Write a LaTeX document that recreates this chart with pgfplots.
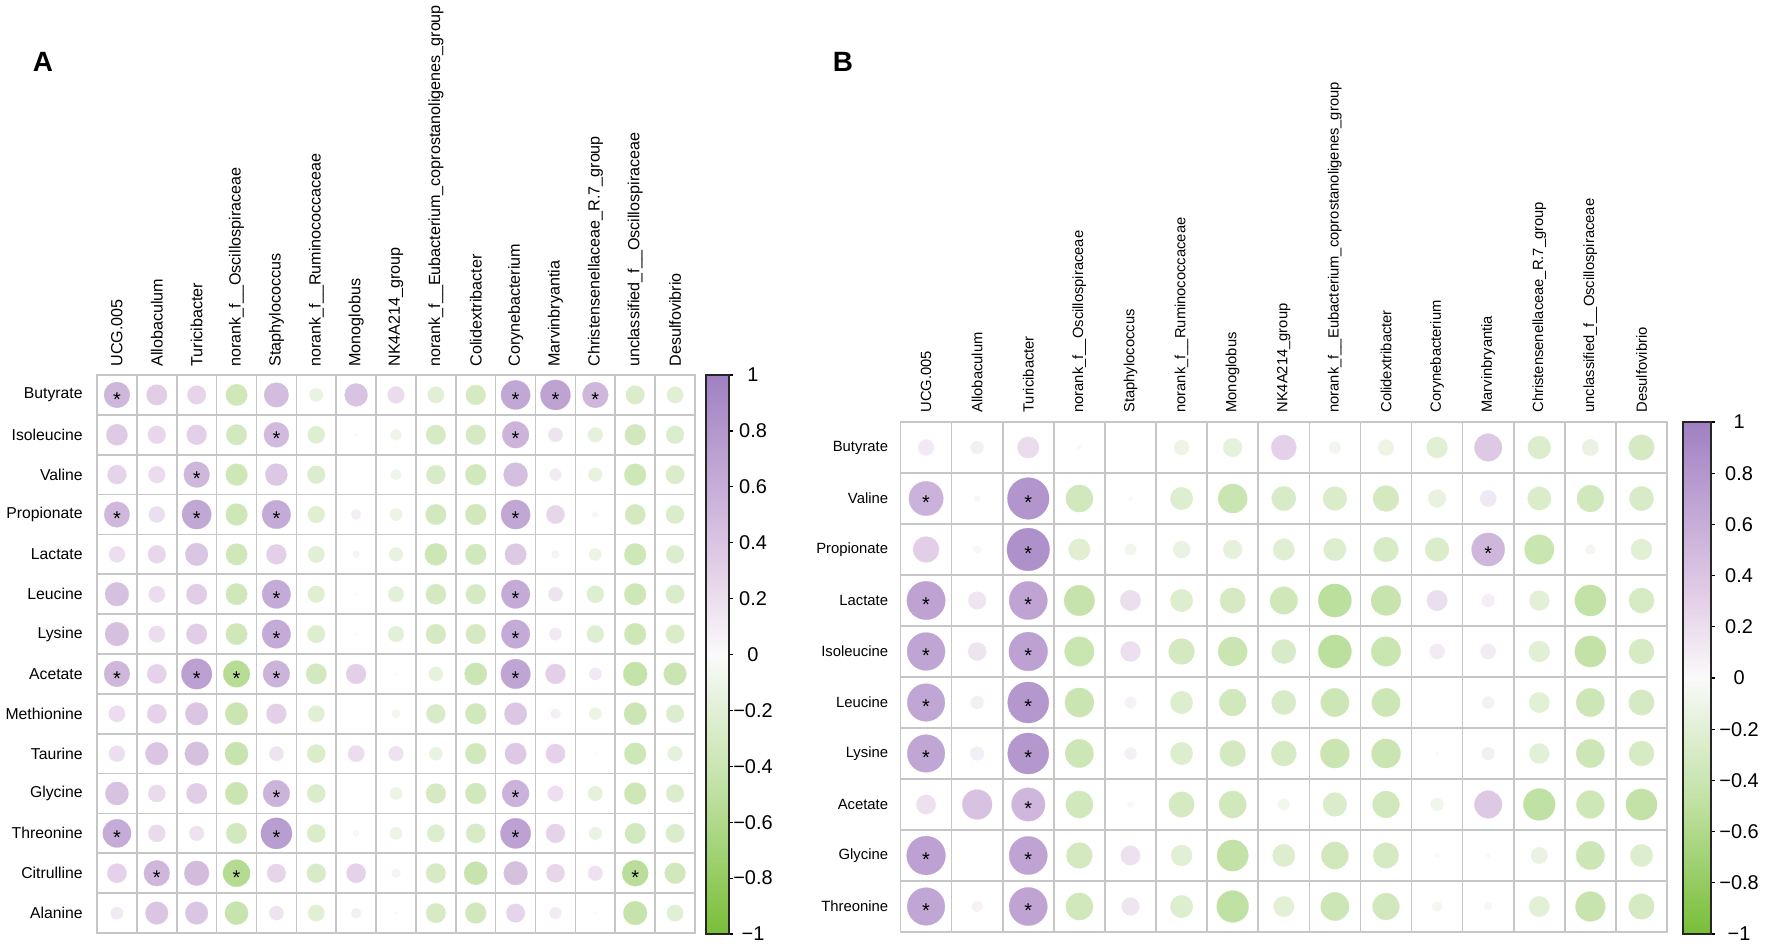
\documentclass[border=0pt]{standalone}
\usepackage{fontspec}
\setmainfont{Liberation Sans}
\usepackage{pgfplots}
\usepackage{pgfplotstable}
\pgfplotsset{compat=1.18}
\definecolor{gridc}{RGB}{198,198,198}
\pgfplotsset{colormap={pg}{rgb255(0cm)=(120,190,55) rgb255(5cm)=(190,224,160) rgb255(10cm)=(250,250,250) rgb255(13cm)=(228,208,232) rgb255(20cm)=(160,128,194)}}
\newcommand\fs[1]{\fontsize{#1}{#1}\selectfont}

% Panel A: rows = metabolites (0 = top), columns c0..c14 = genera
\pgfplotstableread{
row c0 c1 c2 c3 c4 c5 c6 c7 c8 c9 c10 c11 c12 c13 c14
0 0.52 0.33 0.27 -0.36 0.47 -0.14 0.41 0.22 -0.21 -0.31 0.66 0.70 0.52 -0.27 -0.21
1 0.35 0.25 0.31 -0.33 0.49 -0.23 0.01 -0.10 -0.30 -0.31 0.55 0.16 -0.17 -0.34 -0.25
2 0.28 0.22 0.52 -0.37 0.38 -0.25 0.00 -0.09 -0.28 -0.34 0.45 0.11 -0.15 -0.37 -0.27
3 0.51 0.20 0.66 -0.37 0.63 -0.22 0.08 -0.12 -0.33 -0.34 0.66 0.26 0.03 -0.32 -0.26
4 0.20 0.25 0.40 -0.36 0.31 -0.21 0.04 -0.15 -0.38 -0.34 0.36 0.05 -0.12 -0.37 -0.25
5 0.44 0.21 0.33 -0.36 0.63 -0.22 0.01 -0.19 -0.32 -0.31 0.63 0.16 -0.23 -0.37 -0.27
6 0.44 0.21 0.33 -0.36 0.63 -0.24 0.01 -0.19 -0.31 -0.31 0.63 0.12 -0.23 -0.37 -0.27
7 0.52 0.29 0.72 -0.55 0.55 -0.33 0.31 0.01 -0.16 -0.39 0.68 0.31 0.12 -0.45 -0.40
8 0.21 0.29 0.40 -0.40 0.31 -0.21 0.00 -0.06 -0.28 -0.34 0.39 0.08 -0.12 -0.39 -0.25
9 0.20 0.40 0.44 -0.42 0.16 -0.26 0.21 0.17 -0.14 -0.34 0.36 0.29 0.01 -0.37 -0.17
10 0.42 0.23 0.33 -0.40 0.55 -0.26 0.00 -0.12 -0.31 -0.34 0.56 0.19 -0.17 -0.37 -0.25
11 0.62 0.23 0.17 -0.33 0.75 -0.26 0.03 -0.12 -0.24 -0.29 0.71 0.28 -0.13 -0.33 -0.27
12 0.29 0.52 0.48 -0.57 0.27 -0.28 0.29 0.06 -0.30 -0.42 0.44 0.26 0.17 -0.53 -0.34
13 0.12 0.40 0.40 -0.42 0.16 -0.21 0.08 0.01 -0.30 -0.34 0.27 0.11 0.01 -0.44 -0.21
}\tabA

\pgfplotstableread{
c r
0 0
10 0
11 0
12 0
4 1
10 1
2 2
0 3
2 3
4 3
10 3
4 5
10 5
4 6
10 6
0 7
2 7
3 7
4 7
10 7
4 10
10 10
0 11
4 11
10 11
1 12
3 12
13 12
}\starA

% Panel B
\pgfplotstableread{
row c0 c1 c2 c3 c4 c5 c6 c7 c8 c9 c10 c11 c12 c13 c14
0 0.12 0.08 0.22 0.01 0.00 -0.11 -0.17 0.30 -0.065 -0.12 -0.21 0.36 -0.25 -0.13 -0.31
1 0.56 0.02 0.82 -0.35 0.01 -0.24 -0.40 -0.28 -0.27 -0.32 -0.15 0.13 -0.26 -0.34 -0.28
2 0.32 0.03 0.86 -0.22 -0.065 -0.14 -0.17 -0.22 -0.24 -0.29 -0.27 0.52 -0.41 -0.05 -0.21
3 0.70 0.15 0.69 -0.44 0.20 -0.24 -0.31 -0.36 -0.52 -0.42 0.20 0.08 -0.19 -0.46 -0.30
4 0.68 0.16 0.71 -0.41 0.19 -0.32 -0.40 -0.28 -0.52 -0.41 0.11 0.11 -0.21 -0.46 -0.30
5 0.67 0.08 0.80 -0.40 0.065 -0.24 -0.34 -0.28 -0.38 -0.38 0.00 0.07 -0.20 -0.38 -0.31
6 0.67 0.09 0.80 -0.38 0.07 -0.24 -0.32 -0.30 -0.40 -0.40 0.005 0.08 -0.19 -0.38 -0.30
7 0.18 0.42 0.53 -0.35 0.02 -0.31 -0.35 -0.065 -0.27 -0.34 -0.08 0.36 -0.48 -0.37 -0.46
8 0.71 0.00 0.69 -0.32 0.18 -0.21 -0.46 -0.24 -0.35 -0.31 -0.01 0.01 -0.13 -0.38 -0.24
9 0.67 0.06 0.69 -0.35 0.15 -0.24 -0.48 -0.20 -0.38 -0.34 -0.05 0.03 -0.20 -0.42 -0.31
}\tabB

\pgfplotstableread{
c r
0 1
2 1
2 2
11 2
0 3
2 3
0 4
2 4
0 5
2 5
0 6
2 6
2 7
0 8
2 8
0 9
2 9
}\starB

\pgfplotsset{
  corrbase/.style={
    scale only axis, anchor=north west,
    xmin=-0.5, xmax=14.5,
    xtick={0,...,14},
    xticklabels={UCG.005,Allobaculum,Turicibacter,norank\_f\_\_Oscillospiraceae,Staphylococcus,norank\_f\_\_Ruminococcaceae,Monoglobus,NK4A214\_group,norank\_f\_\_Eubacterium\_coprostanoligenes\_group,Colidextribacter,Corynebacterium,Marvinbryantia,Christensenellaceae\_R.7\_group,unclassified\_f\_\_Oscillospiraceae,Desulfovibrio},
    xticklabel pos=upper,
    major tick length=0pt, minor tick length=0pt,
    minor xtick={-0.5,0.5,...,14.5},
    xminorgrids=true, yminorgrids=true,
    minor grid style={draw=gridc, line width=0.8bp},
    axis line style={draw=gridc, line width=0.8bp},
    colormap name=pg, point meta min=-1, point meta max=1,
    clip=false,
    colorbar,
  },
  cbarbase/.style={
    scale only axis,
    at={(parent axis.north east)}, anchor=north west,
    ytick={-1,-0.8,-0.6,-0.4,-0.2,0,0.2,0.4,0.6,0.8,1},
    yticklabels={−1,−0.8,−0.6,−0.4,−0.2,0,0.2,0.4,0.6,0.8,1},
    ytick pos=right, yticklabel pos=right,
    tick align=outside, major tick length=2bp,
    tick style={draw=black, line width=0.6bp},
    axis line style={draw=black!85, line width=0.7bp},
  },
  stars/.style={only marks, mark=*, mark size=0pt, black,
    mark options={line width=0pt},
    nodes near coords={*},
    every node near coord/.append style={anchor=base, yshift=-5.6bp, font=\fs{10}, inner sep=0pt, text=black}},
}

\begin{document}
\begin{tikzpicture}[x=1bp,y=1bp]
\useasboundingbox (0,0) rectangle (886,-473);
\node[font=\bfseries\fs{14}] at (21.5,-31) {A};
\node[font=\bfseries\fs{14}] at (421.5,-31) {B};

% ---------------- Panel A ----------------
\begin{axis}[corrbase,
  at={(48.5bp,-187.5bp)}, width=299bp, height=279bp,
  ymin=-13.5, ymax=0.5,
  ytick={-13,...,0},
  yticklabels={Alanine,Citrulline,Threonine,Glycine,Taurine,Methionine,Acetate,Lysine,Leucine,Lactate,Propionate,Valine,Isoleucine,Butyrate},
  minor ytick={-13.5,-12.5,...,0.5},
  x tick label style={rotate=90, anchor=west, inner sep=4bp, font=\fs{8.1}},
  y tick label style={anchor=east, inner sep=0pt, xshift=-7bp, font=\fs{7.9}},
  colorbar style={cbarbase, xshift=-3bp, width=11.5bp, height=279.5bp,
    yticklabel style={anchor=center, xshift=10bp, inner sep=0pt, font=\fs{10}}},
]
\pgfplotsinvokeforeach{0,...,14}{
  \addplot[scatter, only marks, mark=*, point meta=explicit,
    mark options={line width=0.1bp},
    scatter/use mapped color={draw=mapped color, fill=mapped color},
    visualization depends on={8.97*sqrt(abs(\thisrow{c#1})) \as \rad},
    scatter/@pre marker code/.append style={/tikz/mark size=\rad bp}]
    table[x expr=#1, y expr=-\thisrow{row}, meta=c#1] {\tabA};
}
\addplot[stars] table[x=c, y expr=-\thisrow{r}] {\starA};
\end{axis}

% ---------------- Panel B ----------------
\begin{axis}[corrbase,
  at={(450.25bp,-211bp)}, width=383.25bp, height=255bp,
  ymin=-9.5, ymax=0.5,
  ytick={-9,...,0},
  yticklabels={Threonine,Glycine,Acetate,Lysine,Leucine,Isoleucine,Lactate,Propionate,Valine,Butyrate},
  minor ytick={-9.5,-8.5,...,0.5},
  x tick label style={rotate=90, anchor=west, inner sep=4.5bp, font=\fs{7.4}},
  y tick label style={anchor=east, inner sep=0pt, xshift=-6bp, font=\fs{7.45}},
  colorbar style={cbarbase, xshift=-0.5bp, width=14bp, height=256bp,
    yticklabel style={anchor=center, xshift=12bp, inner sep=0pt, font=\fs{10}}},
]
\pgfplotsinvokeforeach{0,...,14}{
  \addplot[scatter, only marks, mark=*, point meta=explicit,
    mark options={line width=0.1bp},
    scatter/use mapped color={draw=mapped color, fill=mapped color},
    visualization depends on={11.5*sqrt(abs(\thisrow{c#1})) \as \rad},
    scatter/@pre marker code/.append style={/tikz/mark size=\rad bp}]
    table[x expr=#1, y expr=-\thisrow{row}, meta=c#1] {\tabB};
}
\addplot[stars] table[x=c, y expr=-\thisrow{r}] {\starB};
\end{axis}
\end{tikzpicture}
\end{document}
